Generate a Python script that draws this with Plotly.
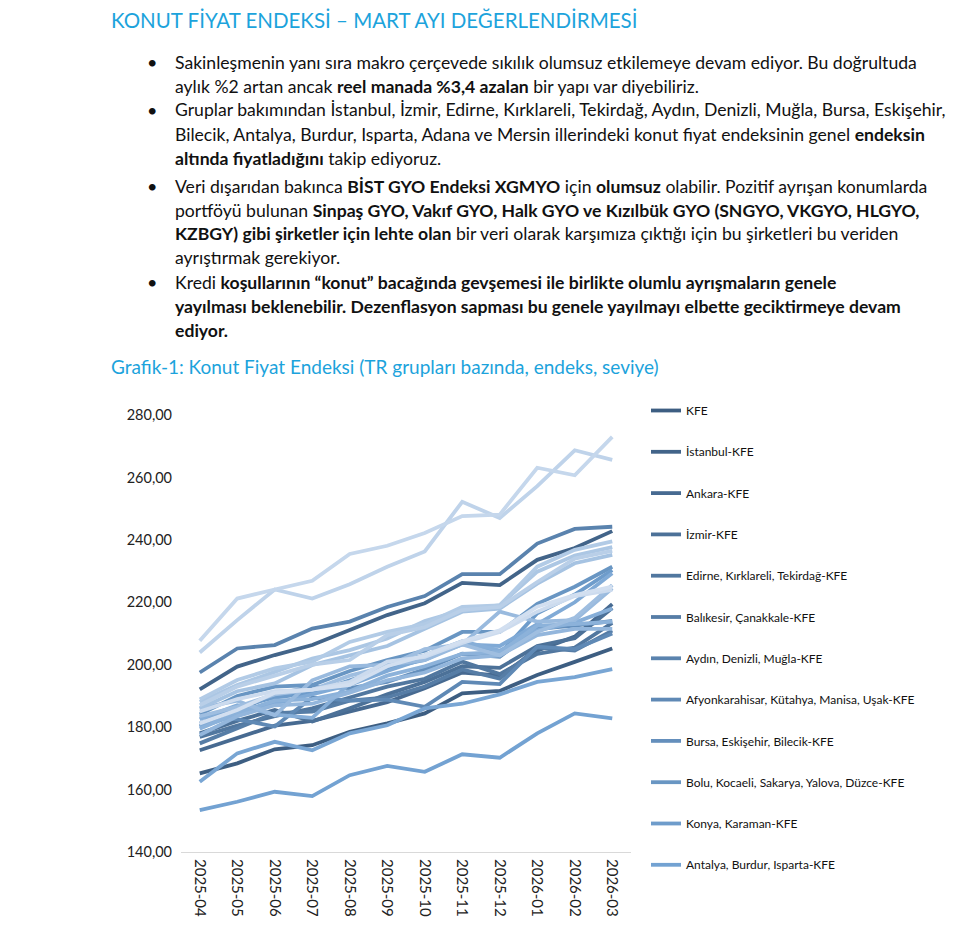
import plotly.graph_objects as go

months = ["2025-04", "2025-05", "2025-06", "2025-07", "2025-08", "2025-09",
          "2025-10", "2025-11", "2025-12", "2026-01", "2026-02", "2026-03"]

names = [
    "KFE", "İstanbul-KFE", "Ankara-KFE", "İzmir-KFE",
    "Edirne, Kırklareli, Tekirdağ-KFE", "Balıkesir, Çanakkale-KFE",
    "Aydın, Denizli, Muğla-KFE", "Afyonkarahisar, Kütahya, Manisa, Uşak-KFE",
    "Bursa, Eskişehir, Bilecik-KFE", "Bolu, Kocaeli, Sakarya, Yalova, Düzce-KFE",
    "Konya, Karaman-KFE", "Antalya, Burdur, Isparta-KFE",
    "Adana, Mersin-KFE", "Hatay, Kahramanmaraş, Osmaniye-KFE",
    "Kırıkkale, Aksaray, Niğde, Nevşehir, Kırşehir-KFE", "Kayseri, Sivas, Yozgat-KFE",
    "Zonguldak, Karabük, Bartın-KFE", "Kastamonu, Çankırı, Sinop-KFE",
    "Samsun, Tokat, Çorum, Amasya-KFE", "Trabzon, Ordu, Giresun, Rize, Artvin, Gümüşhane-KFE",
    "Erzurum, Erzincan, Bayburt-KFE", "Ağrı, Kars, Iğdır, Ardahan-KFE",
    "Malatya, Elazığ, Bingöl, Tunceli-KFE", "Van, Muş, Bitlis, Hakkari-KFE",
    "Gaziantep, Adıyaman, Kilis-KFE", "Şanlıurfa, Diyarbakır-KFE",
    "Mardin, Batman, Şırnak, Siirt-KFE",
]

s00 = [165.2, 168.4, 172.9, 174.2, 178.5, 181.2, 184.4, 190.8, 191.6, 196.7, 200.9, 205.2]
s01 = [192.1, 199.4, 203.1, 206.3, 211.1, 215.9, 219.7, 226.2, 225.5, 233.6, 237.4, 242.8]
s02 = [172.6, 176.5, 180.5, 182.0, 185.0, 188.0, 192.5, 197.5, 196.5, 204.5, 209.0, 219.4]
s03 = [178.0, 182.0, 185.5, 181.8, 186.0, 190.5, 194.5, 199.5, 199.0, 206.0, 208.5, 218.2]
s04 = [176.9, 180.5, 183.5, 186.0, 189.5, 193.0, 195.5, 201.0, 197.0, 203.5, 205.5, 213.4]
s05 = [174.8, 179.5, 184.5, 185.0, 188.5, 189.5, 193.0, 198.5, 195.5, 205.5, 204.5, 210.9]
s06 = [197.5, 205.2, 206.3, 211.6, 213.8, 218.5, 222.0, 229.0, 229.0, 238.8, 243.5, 244.2]
s07 = [183.3, 182.5, 180.2, 189.5, 188.5, 188.8, 186.5, 194.5, 193.8, 205.8, 205.0, 210.0]
s08 = [180.3, 185.2, 190.5, 193.0, 192.5, 194.5, 198.5, 203.5, 202.5, 211.5, 212.5, 214.0]
s09 = [184.1, 190.0, 193.0, 193.5, 198.0, 201.5, 204.5, 210.5, 210.5, 219.5, 225.0, 231.4]
s10 = [181.2, 186.5, 189.5, 191.0, 195.0, 199.0, 201.5, 207.0, 203.5, 216.5, 222.5, 230.3]
s11 = [153.4, 156.1, 159.3, 157.9, 164.6, 167.6, 165.7, 171.3, 170.2, 178.0, 184.4, 182.8]
s12 = [162.5, 171.6, 175.3, 172.6, 178.0, 180.6, 186.0, 187.5, 190.5, 194.5, 196.0, 198.6]
s13 = [180.0, 184.0, 187.5, 190.5, 193.5, 198.0, 202.0, 206.5, 206.0, 213.0, 220.0, 229.3]
s14 = [182.5, 187.0, 184.0, 183.0, 194.0, 200.5, 203.0, 207.5, 204.5, 211.0, 213.5, 218.0]
s15 = [179.5, 184.5, 188.5, 189.0, 191.5, 196.5, 199.5, 203.5, 204.0, 212.5, 213.0, 213.8]
s16 = [177.5, 183.5, 187.0, 187.5, 191.0, 195.0, 197.5, 202.0, 203.0, 209.5, 211.5, 211.5]
s17 = [186.0, 188.5, 183.8, 195.0, 199.5, 200.0, 201.5, 206.5, 217.0, 213.8, 214.3, 224.5]
s18 = [183.5, 186.5, 190.5, 192.0, 196.5, 199.5, 205.0, 206.5, 203.0, 210.5, 215.0, 225.5]
s19 = [186.0, 191.5, 194.0, 199.9, 203.0, 206.0, 211.5, 217.0, 218.0, 226.0, 232.5, 235.2]
s20 = [188.1, 193.5, 197.7, 202.0, 204.7, 208.4, 214.0, 217.5, 219.1, 229.8, 235.0, 237.7]
s21 = [188.9, 195.1, 198.8, 201.0, 207.3, 210.5, 213.0, 218.5, 219.0, 231.4, 236.8, 239.5]
s22 = [187.0, 193.0, 196.5, 200.0, 201.5, 209.5, 212.0, 217.5, 218.5, 226.5, 234.0, 236.5]
s23 = [203.9, 214.3, 224.1, 221.2, 225.8, 231.4, 236.3, 252.2, 247.0, 257.2, 268.7, 265.6]
s24 = [207.7, 221.2, 224.1, 226.9, 235.5, 238.1, 242.2, 247.6, 248.1, 263.1, 260.7, 273.0]
s25 = [185.0, 189.0, 191.5, 192.0, 194.5, 201.0, 202.5, 207.0, 210.5, 217.0, 222.0, 224.0]
s26 = [181.2, 185.5, 191.0, 192.0, 193.5, 199.5, 203.0, 207.5, 211.0, 218.6, 222.3, 225.0]

series = [s00, s01, s02, s03, s04, s05, s06, s07, s08, s09, s10, s11, s12, s13,
          s14, s15, s16, s17, s18, s19, s20, s21, s22, s23, s24, s25, s26]

legend_count = 12


def lerp(c1, c2, t):
    return tuple(round(a + (b - a) * t) for a, b in zip(c1, c2))


dark = (61, 94, 130)
mid = (115, 162, 210)
light = (210, 223, 240)
colors = []
n = len(series)
for i in range(n):
    if i <= 11:
        c = lerp(dark, mid, i / 11)
    else:
        c = lerp(mid, light, (i - 11) / (n - 1 - 11))
    colors.append("rgb(%d,%d,%d)" % c)

fig = go.Figure()
for i, (nm, vals) in enumerate(zip(names, series)):
    fig.add_trace(go.Scatter(
        x=months, y=vals, mode="lines", name=nm,
        line=dict(color=colors[i], width=3.8),
        showlegend=i < legend_count,
        legendgroup="g%d" % i,
    ))

FONT = "Lato"
# page has an 8px body margin; figure sized to fit inside the window
W, H = 961, 922
ML, MR, MT, MB = 173, 338, 407, 78
PW = W - ML - MR
PH = H - MT - MB
OFF = 8


def px(x):
    return (x - OFF - ML) / PW


def py(y):
    return (H - MB - (y - OFF)) / PH


title_color = "#1CA3DC"
text_color = "#111111"

annotations = []
annotations.append(dict(text="KONUT FİYAT ENDEKSİ – MART AYI DEĞERLENDİRMESİ",
                        x=px(109), y=py(20), xref="paper", yref="paper",
                        xanchor="left", yanchor="middle", showarrow=False,
                        font=dict(family=FONT, size=20.5, color=title_color)))

body_lines = [
    (62, True, "Sakinleşmenin yanı sıra makro çerçevede sıkılık olumsuz etkilemeye devam ediyor. Bu doğrultuda"),
    (86, False, "aylık %2 artan ancak <b>reel manada %3,4 azalan</b> bir yapı var diyebiliriz."),
    (110, True, "Gruplar bakımından İstanbul, İzmir, Edirne, Kırklareli, Tekirdağ, Aydın, Denizli, Muğla, Bursa, Eskişehir,"),
    (134, False, "Bilecik, Antalya, Burdur, Isparta, Adana ve Mersin illerindeki konut fiyat endeksinin genel <b>endeksin</b>"),
    (158, False, "<b>altında fiyatladığını</b> takip ediyoruz."),
    (186, True, "Veri dışarıdan bakınca <b>BİST GYO Endeksi XGMYO</b> için <b>olumsuz</b> olabilir. Pozitif ayrışan konumlarda"),
    (210, False, "portföyü bulunan <b>Sinpaş GYO, Vakıf GYO, Halk GYO ve Kızılbük GYO (SNGYO, VKGYO, HLGYO,</b>"),
    (234, False, "<b>KZBGY) gibi şirketler için lehte olan</b> bir veri olarak karşımıza çıktığı için bu şirketleri bu veriden"),
    (258, False, "ayrıştırmak gerekiyor."),
    (282, True, "Kredi <b>koşullarının “konut” bacağında gevşemesi ile birlikte olumlu ayrışmaların genele</b>"),
    (306, False, "<b>yayılması beklenebilir. Dezenflasyon sapması bu genele yayılmayı elbette geciktirmeye devam</b>"),
    (330, False, "<b>ediyor.</b>"),
]
for yy, bullet, txt in body_lines:
    if bullet:
        annotations.append(dict(text="•", x=px(145), y=py(yy), xref="paper", yref="paper",
                                xanchor="left", yanchor="middle", showarrow=False,
                                font=dict(family=FONT, size=18, color=text_color)))
    annotations.append(dict(text=txt, x=px(173), y=py(yy), xref="paper", yref="paper",
                            xanchor="left", yanchor="middle", showarrow=False,
                            font=dict(family=FONT, size=17.6, color=text_color)))

annotations.append(dict(text="Grafik-1: Konut Fiyat Endeksi (TR grupları bazında, endeks, seviye)",
                        x=px(109), y=py(367), xref="paper", yref="paper",
                        xanchor="left", yanchor="middle", showarrow=False,
                        font=dict(family=FONT, size=19, color=title_color)))

fig.update_layout(
    width=W, height=H,
    margin=dict(l=ML, r=MR, t=MT, b=MB),
    paper_bgcolor="white", plot_bgcolor="white",
    font=dict(family=FONT, color="#222222"),
    annotations=annotations,
    legend=dict(x=px(646), y=py(396), xanchor="left", yanchor="top",
                font=dict(family=FONT, size=12, color="#111111"),
                tracegroupgap=22.3, bgcolor="rgba(0,0,0,0)", maxheight=700),
    xaxis=dict(type="category", range=[-0.5, 11.5], tickangle=90,
               showgrid=False, showline=True, linecolor="#d9d9d9", linewidth=1,
               ticks="", ticklabelstandoff=3,
               tickfont=dict(family=FONT, size=15, color="#222222")),
    yaxis=dict(range=[140, 280], dtick=20, tickformat=".2f",
               showgrid=False, zeroline=False, showline=False, ticks="",
               ticklabelstandoff=8,
               tickfont=dict(family=FONT, size=14.5, color="#222222")),
    separators=",.",
)

fig.write_html("out.html")
